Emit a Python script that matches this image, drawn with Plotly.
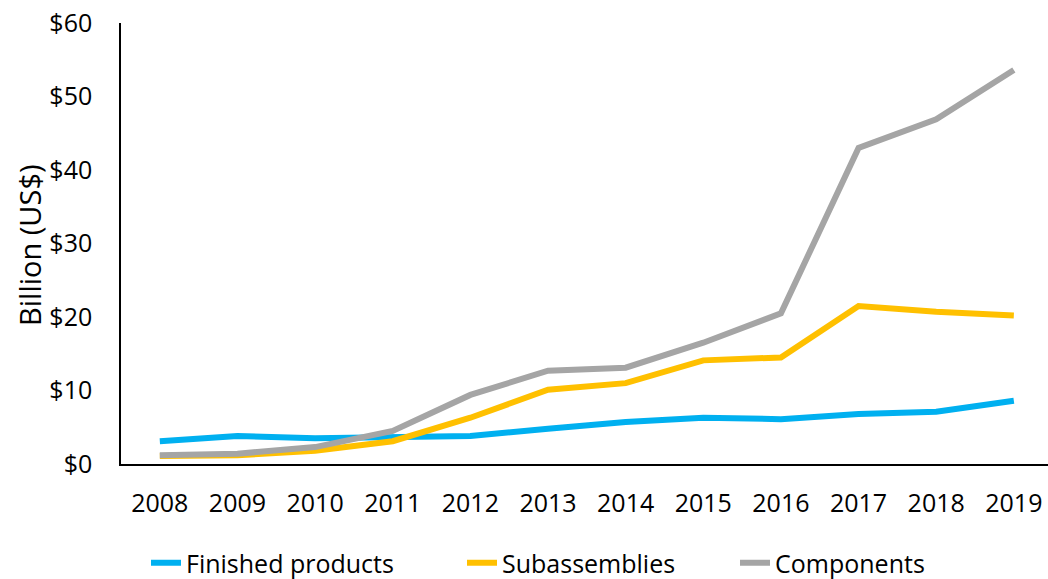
import plotly.graph_objects as go

years = ["2008", "2009", "2010", "2011", "2012", "2013", "2014", "2015", "2016", "2017", "2018", "2019"]
finished_products = [3.1, 3.8, 3.5, 3.7, 3.8, 4.8, 5.7, 6.3, 6.1, 6.8, 7.1, 8.6]
subassemblies = [1.1, 1.2, 1.8, 3.1, 6.3, 10.1, 11.0, 14.1, 14.5, 21.5, 20.7, 20.2]
components = [1.2, 1.4, 2.3, 4.5, 9.4, 12.7, 13.1, 16.5, 20.5, 43.0, 46.9, 53.6]
y_ticks = [0, 10, 20, 30, 40, 50, 60]
y_tick_labels = ["$0", "$10", "$20", "$30", "$40", "$50", "$60"]

FONT = "Open Sans, Noto Sans, sans-serif"

series = [
    ("Finished products", finished_products, "#00B0F0", "legend"),
    ("Subassemblies", subassemblies, "#FFC000", "legend2"),
    ("Components", components, "#A5A5A5", "legend3"),
]

fig = go.Figure()
for name, vals, color, lg in series:
    fig.add_trace(go.Scatter(
        x=years, y=vals, name=name, mode="lines",
        line=dict(color=color, width=6),
        legend=lg,
    ))

# body margin is removed (post_script), so figure coords = page coords
W, H = 1048, 579
L, T = 121, 23
B = H - 464
R = 0
pw, ph = W - L - R, H - T - B

def px_x(p):
    return (p - L) / pw

def px_y(p):
    return (H - B - p) / ph

legend_common = dict(
    orientation="h", yanchor="middle", y=px_y(563), xanchor="left",
    font=dict(family=FONT, size=25, color="#000000"),
    bgcolor="rgba(0,0,0,0)", borderwidth=0,
)

fig.update_layout(
    width=W, height=H,
    margin=dict(l=L, r=R, t=T, b=B, pad=0, autoexpand=False),
    paper_bgcolor="white", plot_bgcolor="white",
    font=dict(family=FONT, size=25, color="#000000"),
    showlegend=True,
    legend=dict(x=px_x(146), **legend_common),
    legend2=dict(x=px_x(462), **legend_common),
    legend3=dict(x=px_x(735), **legend_common),
    xaxis=dict(
        type="category", range=[-0.5, 11.44], automargin=False,
        showline=True, linecolor="#000000", linewidth=1.5,
        showgrid=False, zeroline=False, ticks="",
        tickfont=dict(family=FONT, size=25, color="#000000"),
        ticklabelstandoff=16, ticklabeloverflow="allow",
    ),
    yaxis=dict(
        range=[0, 60], tickvals=y_ticks, ticktext=y_tick_labels, automargin=False,
        showline=True, linecolor="#000000", linewidth=1.5,
        showgrid=False, zeroline=False, ticks="",
        tickfont=dict(family=FONT, size=25, color="#000000"),
        ticklabelstandoff=22, ticklabeloverflow="allow",
    ),
    annotations=[dict(
        text="Billion (US$)", textangle=-90,
        xref="paper", yref="paper", x=px_x(29), y=px_y(245),
        xanchor="center", yanchor="middle", showarrow=False,
        font=dict(family=FONT, size=29, color="#000000"),
    )],
)

fig.write_html(
    "out.html",
    config={"displayModeBar": False},
    post_script="document.body.style.margin='0px';document.body.style.overflow='hidden';",
)
